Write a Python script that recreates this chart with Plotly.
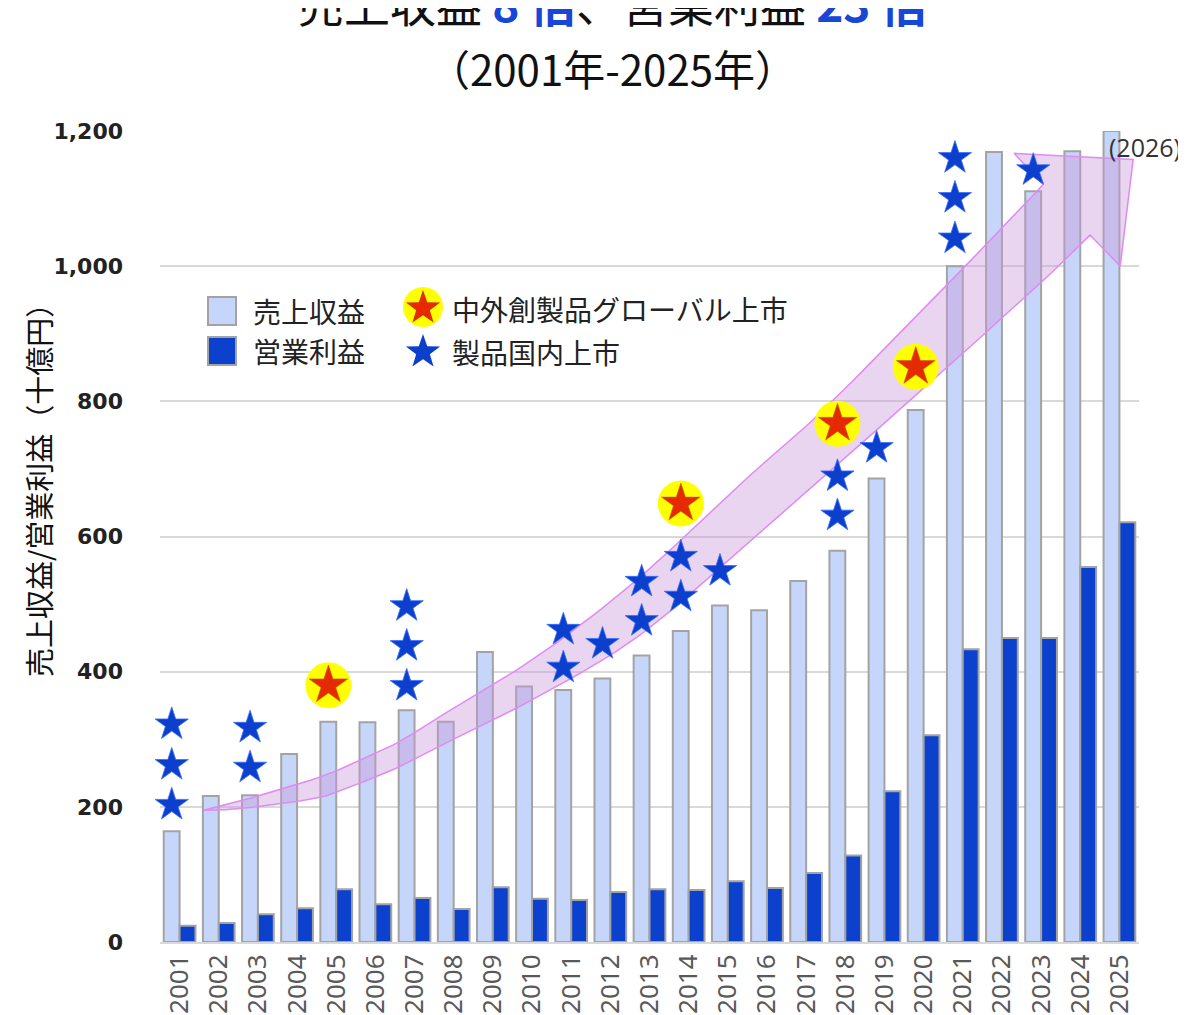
import math
import numpy as np
import plotly.graph_objects as go

# ---------------- data ----------------
years = list(range(2001, 2026))
year_labels = [str(y) for y in years]
revenue = [164, 216, 217, 278, 326, 325, 343, 326, 429, 378, 373, 390, 424, 460, 498, 491,
           534, 579, 686, 787, 1000, 1169, 1111, 1170, 1200]
op_profit = [24, 28, 41, 50, 78, 56, 65, 49, 81, 64, 62, 74, 78, 77, 90, 80,
             102, 128, 223, 306, 433, 450, 450, 555, 621]

# domestic launches (blue stars): year and plotted height
dom_years = [2001, 2001, 2001, 2003, 2003, 2007, 2007, 2007, 2011, 2011, 2012, 2013, 2013,
             2014, 2014, 2015, 2018, 2018, 2019, 2021, 2021, 2021, 2022, 2023, 2025, 2026]
dom_y = [203, 262, 322, 258, 317, 379, 438, 497, 406, 462, 441, 475, 533,
         511, 570, 549, 631, 689, 731, 1041, 1101, 1160, 1201, 1142, 1237, 1278]

# global launches of Chugai-created products (red star on yellow disc)
glob_years = [2005, 2014, 2018, 2020, 2022, 2024, 2025, 2026]
glob_y = [380, 649, 767, 851, 1266, 1224, 1308, 1350]

y_ticks = [0, 200, 400, 600, 800, 1000, 1200]

# growth arrow outline (year, value)
arrow_upper = [(2001.61, 195), (2002.64, 210), (2004.58, 244), (2005.60, 269), (2006.60, 296),
               (2007.57, 331), (2010.12, 422), (2012.68, 536), (2015.23, 673), (2017.61, 797),
               (2021.95, 1053), (2023.05, 1121)]
arrow_lower = [(2001.61, 195), (2002.64, 198), (2004.58, 214), (2005.60, 235), (2006.60, 259),
               (2007.57, 288), (2010.12, 362), (2012.68, 451), (2015.23, 575), (2018.30, 732),
               (2020.52, 846), (2023.15, 984), (2024.25, 1046)]
arrow_head = [(2022.31, 1167), (2025.35, 1158), (2025.02, 1000)]

# ---------------- style ----------------
W, H = 1186, 1015
OFF = 8                       # page body margin of the written html
# plot area in page pixels
PL, PR, PT, PB = 160 - OFF, 1139 - OFF, 131 - OFF, 942 - OFF
LIGHT = "#c6d6fb"
DARK = "#0b41cc"
EDGE = "#a3a3a3"
BLUE_STAR = "#0b3fcc"
RED_STAR = "#e52a00"
YELLOW = "#ffff00"
CJK = "Noto Sans CJK JP"
LIGHT_OFFSET = -0.2   # stars sit over the revenue bar


def px_x(px):
    return (px - OFF - PL) / (PR - PL)


def px_y(py):
    return (PB - (py - OFF)) / (PB - PT)


def catmull(points, n=14):
    pts = [points[0]] + list(points) + [points[-1]]
    out = []
    for i in range(1, len(pts) - 2):
        p0, p1, p2, p3 = [np.array(p, float) for p in pts[i - 1:i + 3]]
        for t in np.linspace(0, 1, n, endpoint=False):
            t2, t3 = t * t, t * t * t
            q = 0.5 * ((2 * p1) + (-p0 + p2) * t + (2 * p0 - 5 * p1 + 4 * p2 - p3) * t2
                       + (-p0 + 3 * p1 - 3 * p2 + p3) * t3)
            out.append(q)
    out.append(np.array(points[-1], float))
    return out


up = catmull(arrow_upper)
lo = catmull(arrow_lower)
outline = up + [np.array(p, float) for p in arrow_head] + lo[::-1]
ax_x = [p[0] for p in outline]
ax_y = [p[1] for p in outline]

fig = go.Figure()
fig.add_trace(go.Bar(x=years, y=revenue, name="売上収益",
                     marker=dict(color=LIGHT, line=dict(color=EDGE, width=2))))
fig.add_trace(go.Bar(x=years, y=op_profit, name="営業利益",
                     marker=dict(color=DARK, line=dict(color=EDGE, width=2))))
fig.add_trace(go.Scatter(x=ax_x, y=ax_y, mode="lines", fill="toself",
                         fillcolor="rgba(200,150,215,0.40)",
                         line=dict(color="#e08af2", width=1.5), hoverinfo="skip"))

dx = [y + (LIGHT_OFFSET if y <= years[-1] else 0) for y in dom_years]
gx = [y + (LIGHT_OFFSET if y <= years[-1] else 0) for y in glob_years]
fig.add_trace(go.Scatter(x=dx, y=dom_y, mode="markers", cliponaxis=False, name="製品国内上市",
                         marker=dict(symbol="star", size=25, color=BLUE_STAR,
                                     line=dict(color="#3a6cff", width=0.8))))
fig.add_trace(go.Scatter(x=gx, y=glob_y, mode="markers", cliponaxis=False,
                         marker=dict(symbol="circle", size=46, color=YELLOW, line=dict(width=0))))
fig.add_trace(go.Scatter(x=gx, y=glob_y, mode="markers", cliponaxis=False,
                         name="中外創製品グローバル上市",
                         marker=dict(symbol="star", size=29, color=RED_STAR,
                                     line=dict(color="#d06000", width=0.6))))


def star_path(R, ratio=0.40):
    pts = []
    for k in range(10):
        r = R if k % 2 == 0 else R * ratio
        a = math.pi / 2 + k * math.pi / 5
        pts.append((r * math.cos(a), r * math.sin(a)))
    return "M" + " L".join(f"{x:.2f},{y:.2f}" for x, y in pts) + " Z"


shapes = []
# legend swatches
for cy, col in [(311, LIGHT), (351, DARK)]:
    shapes.append(dict(type="rect", xref="paper", yref="paper", xsizemode="pixel", ysizemode="pixel",
                       xanchor=px_x(222), yanchor=px_y(cy), x0=-14, x1=14, y0=-14, y1=14,
                       fillcolor=col, line=dict(color=EDGE, width=2)))
shapes.append(dict(type="circle", xref="paper", yref="paper", xsizemode="pixel", ysizemode="pixel",
                   xanchor=px_x(423), yanchor=px_y(307), x0=-20, x1=20, y0=-20, y1=20,
                   fillcolor=YELLOW, line=dict(width=0)))
shapes.append(dict(type="path", xref="paper", yref="paper", xsizemode="pixel", ysizemode="pixel",
                   xanchor=px_x(423), yanchor=px_y(308), path=star_path(18),
                   fillcolor=RED_STAR, line=dict(width=0)))
shapes.append(dict(type="path", xref="paper", yref="paper", xsizemode="pixel", ysizemode="pixel",
                   xanchor=px_x(423), yanchor=px_y(352), path=star_path(18),
                   fillcolor=BLUE_STAR, line=dict(width=0)))

legend_texts = [("売上収益", 251, 311), ("営業利益", 251, 351),
                ("中外創製品グローバル上市", 450, 309), ("製品国内上市", 450, 352)]
annotations = []
for txt, lx, ly in legend_texts:
    annotations.append(dict(text=txt, xref="paper", yref="paper", x=px_x(lx), y=px_y(ly),
                            xanchor="left", yanchor="middle", showarrow=False,
                            font=dict(family=CJK, size=28, color="#222")))

blue_b = "#1846d6"
annotations.append(dict(
    text=f'売上収益 <b><span style="color:{blue_b}">8 倍</span></b>、営業利益 '
         f'<b><span style="color:{blue_b}">23 倍</span></b>',
    xref="paper", yref="paper", x=px_x(612), y=px_y(2), xanchor="center", yanchor="middle",
    showarrow=False, font=dict(family=CJK, size=46, color="#111")))
annotations.append(dict(text="（2001年-2025年）", xref="paper", yref="paper", x=px_x(612), y=px_y(68),
                        xanchor="center", yanchor="middle", showarrow=False,
                        font=dict(family=CJK, size=42, color="#111")))
annotations.append(dict(text="売上収益/営業利益（十億円）", xref="paper", yref="paper",
                        x=px_x(38), y=px_y(483), textangle=-90, xanchor="center", yanchor="middle",
                        showarrow=False, font=dict(family=CJK, size=29, color="#111")))
annotations.append(dict(text="(2026)", xref="paper", yref="paper", x=px_x(1145), y=px_y(147),
                        xanchor="center", yanchor="middle", showarrow=False,
                        font=dict(family="Open Sans", size=25, color="#333")))

fig.update_layout(
    width=W, height=H,
    margin=dict(l=PL, r=W - PR, t=PT, b=H - PB),
    paper_bgcolor="white", plot_bgcolor="white",
    barmode="group", bargap=0.19, bargroupgap=0,
    showlegend=False,
    shapes=shapes, annotations=annotations,
    xaxis=dict(range=[years[0] - 0.5, years[-1] + 0.5], tickmode="array", tickvals=years,
               ticktext=year_labels, tickangle=-90, showgrid=False, zeroline=False,
               showline=True, linecolor="#d9d9d9", linewidth=2, ticks="", automargin=False,
               tickfont=dict(family="Noto Sans", size=26, color="#595959")),
    yaxis=dict(range=[0, 1200], tickmode="array", tickvals=y_ticks, tickformat=",d",
               showgrid=True, gridcolor="#d9d9d9", gridwidth=2, zeroline=False, ticks="",
               ticklabelstandoff=36, automargin=False,
               tickfont=dict(family="DejaVu Sans", size=22, color="#222", weight="bold")),
)

fig.write_html("out.html")
